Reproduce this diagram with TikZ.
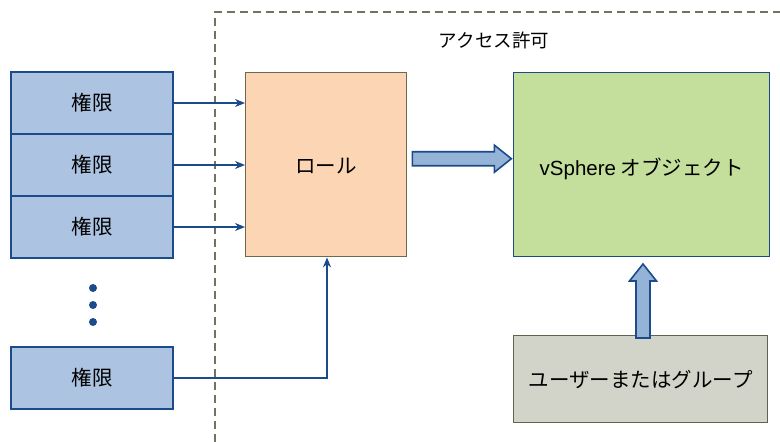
\documentclass[tikz,border=0pt]{standalone}
\usepackage{fontspec}
\setmainfont{Noto Sans CJK JP}
\newfontfamily\latinfont{Liberation Sans}
\usepackage{tikz}
\usetikzlibrary{arrows.meta,calc}

\definecolor{permfill}{HTML}{ADC3E2}
\definecolor{permline}{HTML}{1C4B8B}
\definecolor{rolefill}{HTML}{FCD5B4}
\definecolor{oliveline}{HTML}{6B6A4C}
\definecolor{objfill}{HTML}{C4DE9C}
\definecolor{userfill}{HTML}{D3D4C9}
\definecolor{userline}{HTML}{5E6450}
\definecolor{blockfill}{HTML}{95B3D7}
\definecolor{dashline}{HTML}{727262}

\tikzset{
  perm/.style={draw=permline, fill=permfill, line width=1.4pt, minimum width=162pt, minimum height=62pt, inner sep=0pt},
  box/.style={line width=1.4pt, inner sep=0pt, anchor=north west},
  link/.style={draw=permline, line width=1.4pt, -{Stealth[length=10pt,width=8pt]}},
  blockarrow/.style={draw=permline, fill=blockfill, line width=1.6pt, line join=miter},
}

\begin{document}
\begin{tikzpicture}[x=1pt, y=-1pt, font=\fontsize{20.5}{24}\selectfont]
  \useasboundingbox (0,0) rectangle (780,442);
  \clip (0,0) rectangle (780,442);

  % access permission frame
  \draw[dashline, line width=1.5pt, dash pattern=on 8pt off 5pt] (215,442) -- (215,12) -- (780,12);
  \node[font=\fontsize{18.5}{22}\selectfont] (title) at (494,40) {アクセス許可};

  % privileges
  \node[perm] (p1) at (92,103) {権限};
  \node[perm] (p2) at (92,165) {権限};
  \node[perm] (p3) at (92,227) {権限};
  \node[perm] (p4) at (92,378) {権限};
  \foreach \y in {288,305,322}
    \fill[permline] (93,\y) circle (4pt);

  % role, object, user
  \node[box, draw=oliveline, fill=rolefill, minimum width=161pt, minimum height=184pt] (role) at (245,72) {};
  \node (rolelabel) at ([yshift=-1pt]role.center) {ロール};
  \node[box, draw=permline, fill=objfill, minimum width=256pt, minimum height=184pt] (obj) at (513,72) {};
  \node (objlabel) at ([yshift=-4pt]obj.center) {{\latinfont vSphere} オブジェクト};
  \node[box, draw=userline, fill=userfill, minimum width=254pt, minimum height=87pt] (user) at (513,335) {ユーザーまたはグループ};

  % links
  \draw[link] (p1.east) -- (p1.east -| role.west);
  \draw[link] (p2.east) -- (p2.east -| role.west);
  \draw[link] (p3.east) -- (p3.east -| role.west);
  \draw[link] (p4.east) -| (327,0 |- role.south);

  % block arrows
  \coordinate (ra) at ([xshift=5pt, yshift=6.5pt]role.east);
  \draw[blockarrow] (ra) ++(0,-6.5) -- ++(82,0) -- ++(0,-6.5) -- ++(17,13.5) -- ++(-17,13.5)
    -- ++(0,-6.5) -- ++(-82,0) -- cycle;
  \coordinate (ua) at ([xshift=130pt, yshift=-3pt]user.north west);
  \draw[blockarrow] (ua) ++(-7,0) -- ++(0,-57) -- ++(-6.5,0) -- ++(13.5,-17) -- ++(13.5,17)
    -- ++(-6.5,0) -- ++(0,57) -- cycle;
\end{tikzpicture}
\end{document}
